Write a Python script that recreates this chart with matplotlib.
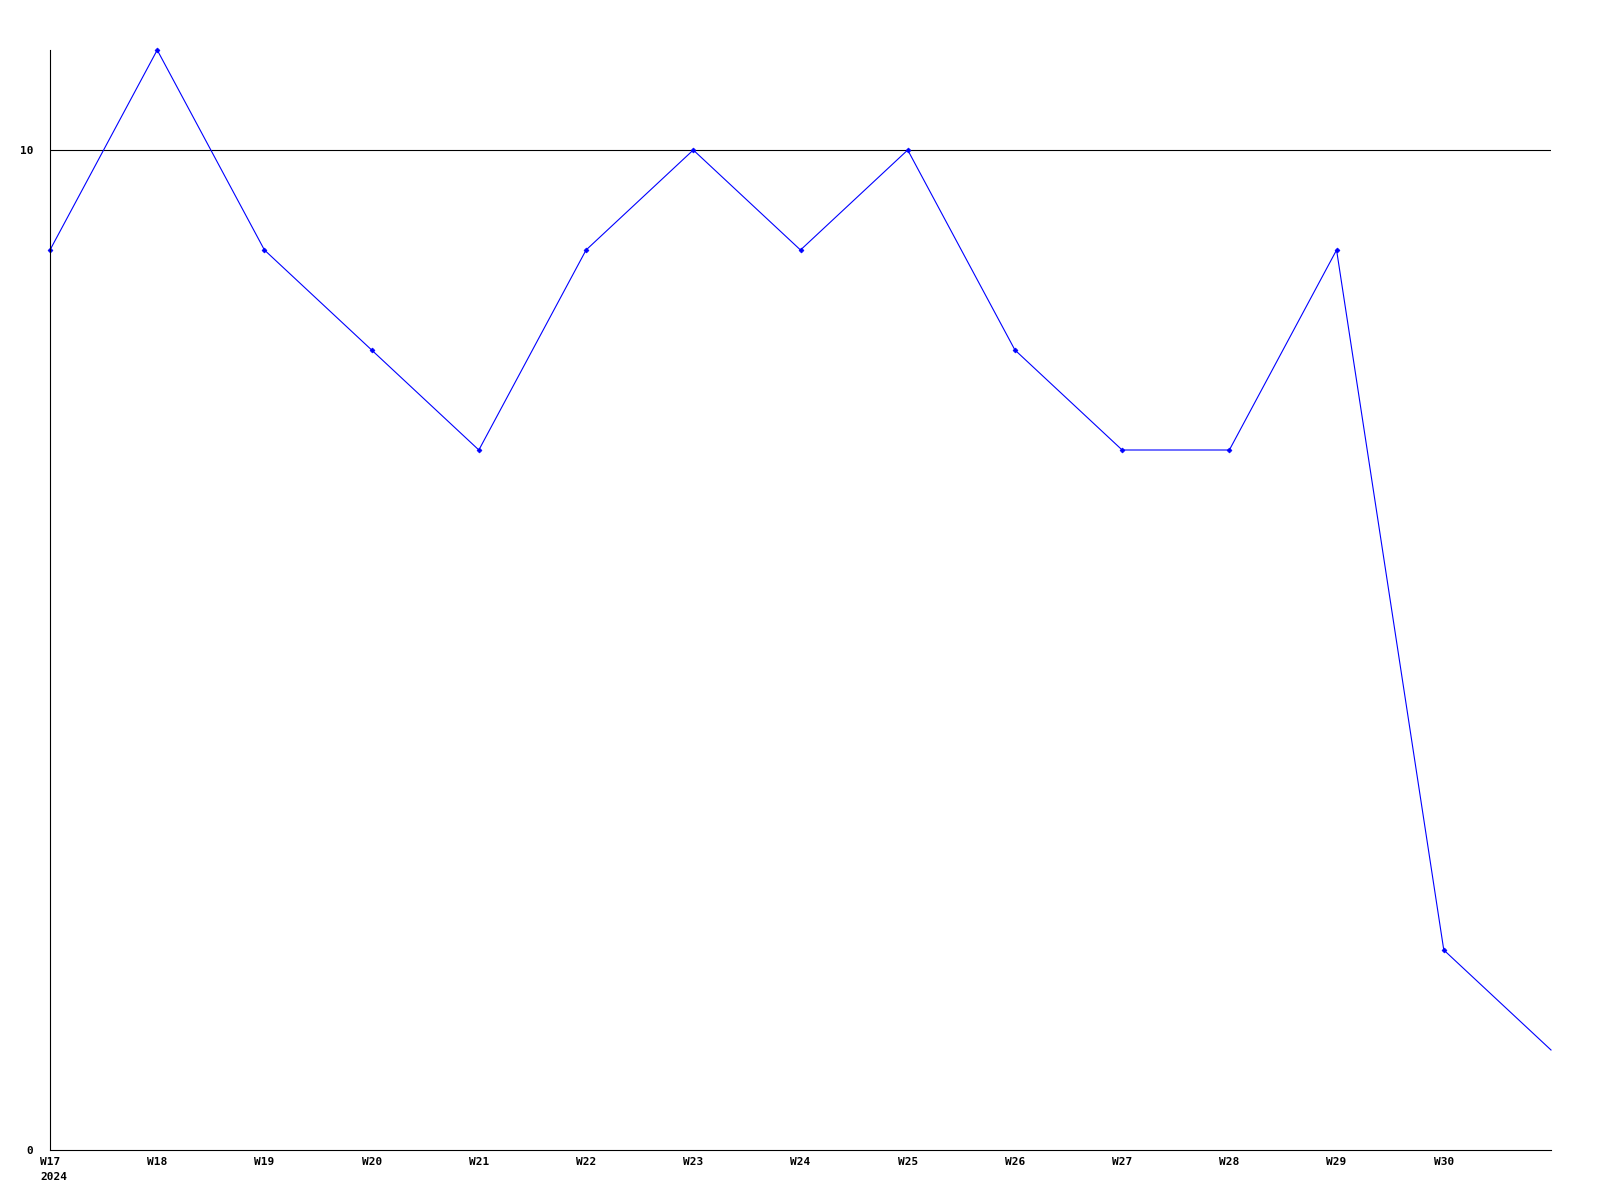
import matplotlib
matplotlib.use("Agg")
import matplotlib.pyplot as plt

# weekly values, W17 2024 .. W31 (last point has no label)
weeks = ["W17", "W18", "W19", "W20", "W21", "W22", "W23", "W24",
         "W25", "W26", "W27", "W28", "W29", "W30", ""]
values = [9, 11, 9, 8, 7, 9, 10, 9, 10, 8, 7, 7, 9, 2, 1]
year_label = "2024"
y_ticks = [0, 10]

plt.rcParams['font.family'] = ['DejaVu Sans Mono']

fig = plt.figure(figsize=(16, 12), dpi=100)
ax = fig.add_axes([50 / 1600, 50 / 1200, 1501 / 1600, 1100 / 1200])

x = list(range(len(values)))
ax.plot(x, values, color='blue', linewidth=0.8, clip_on=False)
# markers on every labelled week, not on the trailing point
ax.plot(x[:-1], values[:-1], linestyle='none', color='blue', marker='D',
        markersize=2.5, markeredgewidth=0.5, clip_on=False)

ax.set_xlim(0, len(values) - 1)
ax.set_ylim(0, 11)

ax.axhline(10, color='black', linewidth=0.8, zorder=0)

for s in ['top', 'right']:
    ax.spines[s].set_visible(False)
for s in ['left', 'bottom']:
    ax.spines[s].set_linewidth(0.8)
    ax.spines[s].set_color('black')

ax.set_yticks(y_ticks)
ax.set_yticklabels([str(v) for v in y_ticks], fontsize=8, fontweight='bold')
ax.tick_params(axis='y', length=0, pad=12)

ax.set_xticks(x[:-1])
ax.set_xticklabels(weeks[:-1], fontsize=8, fontweight='bold', va='top')
ax.tick_params(axis='x', length=0, pad=5)

# year under the first week, left-aligned with it
ax.annotate(year_label, xy=(0, 0), xycoords=('data', 'axes fraction'),
            xytext=(-7.2, -19.4), textcoords='offset points',
            ha='left', va='center', fontsize=8, fontweight='bold')

fig.savefig("out.png", dpi=100)
